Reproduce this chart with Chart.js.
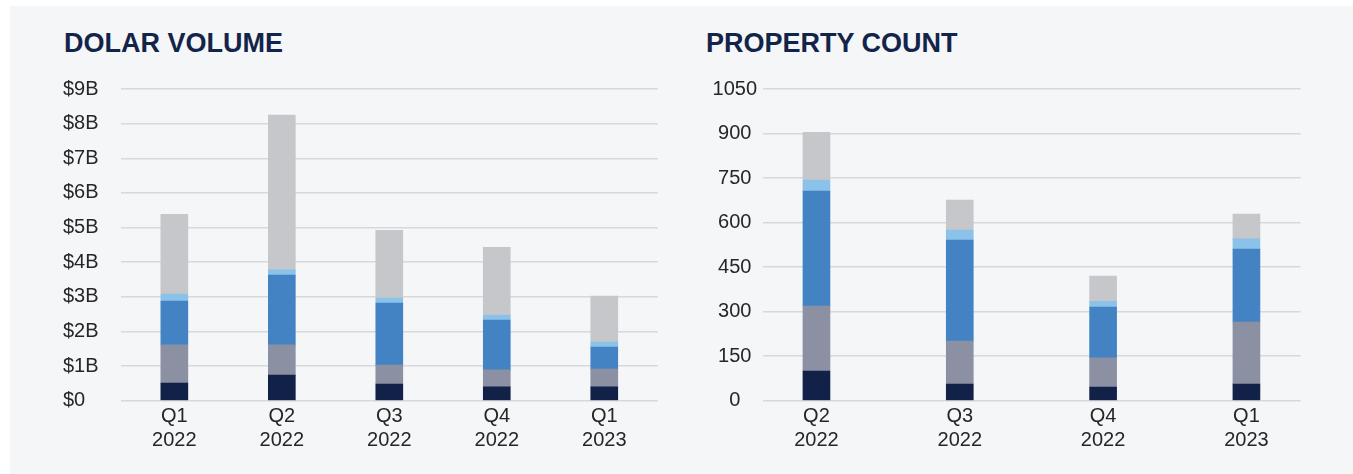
<!DOCTYPE html>
<html>
<head>
<meta charset="utf-8">
<script src="https://cdn.jsdelivr.net/npm/chart.js@4.4.1/dist/chart.umd.min.js"></script>
<style>
    body { margin: 0; background: #ffffff; width: 1353px; height: 474px; overflow: hidden; position: relative; }
    .panel { position: absolute; left: 10px; top: 6px; width: 1343px; height: 468px; background: #f5f6f8; }
    .title { position: absolute; top: 30px; font: bold 27px "Liberation Sans", Arial, sans-serif; line-height: 27px; color: #13244a; white-space: nowrap; }
    canvas { position: absolute; top: 70px; }
</style>
</head>
<body>
<div class="panel"></div>
<div class="title" style="left: 64px;">DOLAR VOLUME</div>
<div class="title" style="left: 706px;">PROPERTY COUNT</div>
<canvas id="volume-chart" width="680" height="404" style="left: 0px;"></canvas>
<canvas id="count-chart" width="673" height="404" style="left: 680px;"></canvas>
<script>
// dollar volume, billions, stacked bottom to top
const volumeQuarters = [['Q1', '2022'], ['Q2', '2022'], ['Q3', '2022'], ['Q4', '2022'], ['Q1', '2023']];
const volumeSeries1 = [0.51, 0.74, 0.48, 0.40, 0.40];
const volumeSeries2 = [1.10, 0.87, 0.55, 0.49, 0.51];
const volumeSeries3 = [1.27, 2.02, 1.79, 1.44, 0.64];
const volumeSeries4 = [0.20, 0.15, 0.14, 0.14, 0.14];
const volumeSeries5 = [2.30, 4.47, 1.96, 1.96, 1.33];
const volumeTicks = [0, 1, 2, 3, 4, 5, 6, 7, 8, 9];

// property count, stacked bottom to top
const countQuarters = [['Q2', '2022'], ['Q3', '2022'], ['Q4', '2022'], ['Q1', '2023']];
const countSeries1 = [100, 56, 46, 56];
const countSeries2 = [219, 145, 98, 209];
const countSeries3 = [387, 340, 171, 246];
const countSeries4 = [37, 34, 20, 34];
const countSeries5 = [161, 101, 85, 84];
const countTicks = [0, 150, 300, 450, 600, 750, 900, 1050];

const seriesNames = ['Series 1', 'Series 2', 'Series 3', 'Series 4', 'Series 5'];
const colors = ['#112147', '#8b91a2', '#4383c4', '#8bc2ea', '#c6c7ca'];

const fontFamily = '"Liberation Sans", Arial, sans-serif';
const tickColor = '#262626';
const gridColor = '#d6d8db';

function makeDatasets(seriesList, toPoint) {
    return seriesList.map((values, i) => ({
        label: seriesNames[i],
        data: values.map(toPoint),
        backgroundColor: colors[i],
        borderWidth: 0,
        barThickness: 27
    }));
}

function renderVolume() {
    const ctx = document.getElementById('volume-chart').getContext('2d');
    const series = [volumeSeries1, volumeSeries2, volumeSeries3, volumeSeries4, volumeSeries5];
    new Chart(ctx, {
        type: 'bar',
        data: {
            labels: volumeQuarters,
            datasets: makeDatasets(series, v => v)
        },
        options: {
            responsive: false,
            animation: false,
            layout: { padding: { left: 63, right: 22, top: 19, bottom: 0 } },
            plugins: { legend: { display: false }, tooltip: { enabled: false } },
            scales: {
                x: {
                    stacked: true,
                    grid: { display: false, drawTicks: false },
                    border: { display: false },
                    ticks: { color: tickColor, font: { family: fontFamily, size: 20 }, padding: 4, maxRotation: 0, autoSkip: false },
                    afterFit: scale => { scale.height = 73.3; }
                },
                y: {
                    stacked: true,
                    min: volumeTicks[0],
                    max: volumeTicks[volumeTicks.length - 1],
                    afterBuildTicks: scale => { scale.ticks = volumeTicks.map(v => ({ value: v })); },
                    grid: { color: gridColor, lineWidth: 1.5, drawTicks: false },
                    border: { display: false },
                    ticks: {
                        color: tickColor,
                        font: { family: fontFamily, size: 20 },
                        crossAlign: 'far',
                        padding: 0,
                        callback: v => v === 0 ? '$0' : '$' + v + 'B'
                    },
                    afterFit: scale => { scale.width = 57.6; }
                }
            }
        }
    });
}

function renderCount() {
    const ctx = document.getElementById('count-chart').getContext('2d');
    const series = [countSeries1, countSeries2, countSeries3, countSeries4, countSeries5];
    new Chart(ctx, {
        type: 'bar',
        data: {
            datasets: makeDatasets(series, (v, i) => ({ x: i, y: v }))
        },
        options: {
            responsive: false,
            animation: false,
            layout: { padding: { left: 0, right: 52.4, top: 19, bottom: 0 } },
            plugins: { legend: { display: false }, tooltip: { enabled: false } },
            scales: {
                x: {
                    type: 'linear',
                    stacked: true,
                    offset: false,
                    min: -0.373,
                    max: countQuarters.length - 1 + 0.378,
                    grid: { display: false, drawTicks: false },
                    border: { display: false },
                    ticks: {
                        stepSize: 1,
                        includeBounds: false,
                        autoSkip: false,
                        maxRotation: 0,
                        padding: 4,
                        color: tickColor,
                        font: { family: fontFamily, size: 20 },
                        callback: v => Number.isInteger(v) && countQuarters[v] ? countQuarters[v] : ''
                    },
                    afterFit: scale => { scale.height = 73.3; }
                },
                y: {
                    stacked: true,
                    min: countTicks[0],
                    max: countTicks[countTicks.length - 1],
                    afterBuildTicks: scale => { scale.ticks = countTicks.map(v => ({ value: v })); },
                    grid: { color: gridColor, lineWidth: 1.5, drawTicks: false },
                    border: { display: false },
                    ticks: {
                        color: tickColor,
                        font: { family: fontFamily, size: 20 },
                        crossAlign: 'center',
                        padding: 6,
                        callback: v => String(v)
                    },
                    afterFit: scale => { scale.width = 83; }
                }
            }
        }
    });
}

renderVolume();
renderCount();
</script>
</body>
</html>
